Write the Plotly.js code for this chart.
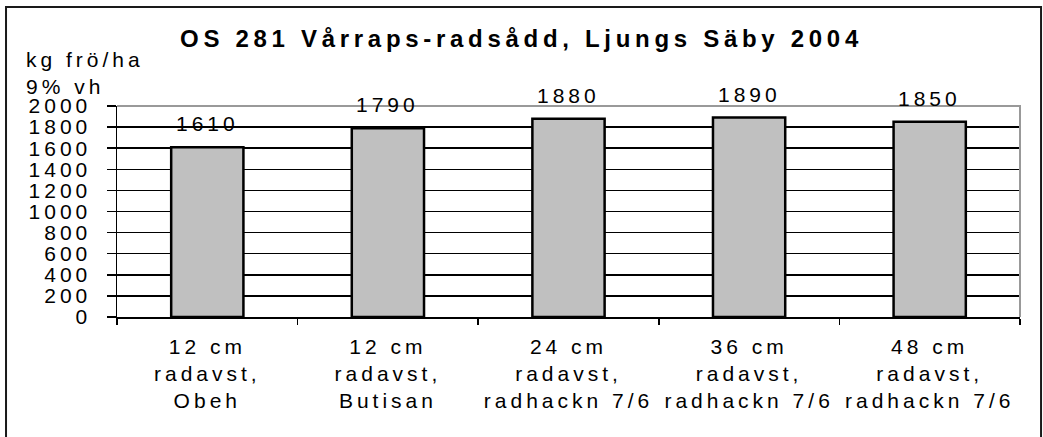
<!DOCTYPE html>
<html>
<head>
<meta charset="utf-8">
<script src="https://cdn.plot.ly/plotly-3.0.1.min.js"></script>
<style>
  html, body { margin: 0; padding: 0; background: #fff; }
  #chart { width: 1043px; height: 437px; }
  svg text { letter-spacing: 4px; }
  svg text.gtitle { letter-spacing: 4.7px; }
</style>
</head>
<body>
<div id="chart"></div>
<script>
const chartTitle = "OS 281 Vårraps-radsådd, Ljungs Säby 2004";
const yTitleLines = ["kg frö/ha", "9% vh"];
const categories = [
  "12 cm<br>radavst,<br>Obeh",
  "12 cm<br>radavst,<br>Butisan",
  "24 cm<br>radavst,<br>radhackn 7/6",
  "36 cm<br>radavst,<br>radhackn 7/6",
  "48 cm<br>radavst,<br>radhackn 7/6"
];
const values = [1610, 1790, 1880, 1890, 1850];
const yTickVals = [0, 200, 400, 600, 800, 1000, 1200, 1400, 1600, 1800, 2000];

const FONT = "'Liberation Sans', Arial, Helvetica, sans-serif";

const trace = {
  type: "bar",
  x: categories,
  y: values,
  marker: { color: "#c0c0c0", line: { color: "#000", width: 2.5 } },
  width: 0.4,
  hoverinfo: "none"
};

const valueAnnotations = categories.map((c, i) => ({
  x: c, y: values[i], xref: "x", yref: "y",
  text: String(values[i]), showarrow: false,
  xanchor: "center", yanchor: "bottom", yshift: 10,
  font: { family: FONT, size: 21, color: "#000" }
}));

const yTitleY = [1.2227, 1.092];
const yTitleAnnotations = yTitleLines.map((t, i) => ({
  x: -0.103, y: yTitleY[i], xref: "paper", yref: "paper",
  text: t, showarrow: false, xanchor: "left", yanchor: "middle",
  font: { family: FONT, size: 21, color: "#000" }
}));

const layout = {
  width: 1043, height: 437,
  margin: { l: 117, r: 23, t: 106, b: 120, pad: 0 },
  paper_bgcolor: "#fff", plot_bgcolor: "rgba(0,0,0,0)",
  showlegend: false,
  title: {
    text: "<b>" + chartTitle + "</b>",
    x: 0.5, xref: "container", xanchor: "center",
    y: 0.912, yref: "container", yanchor: "middle",
    font: { family: FONT, size: 24, color: "#000" }
  },
  xaxis: {
    type: "category",
    showgrid: false, zeroline: false,
    showline: true, linecolor: "#000", linewidth: 1.5,
    ticks: "outside", ticklen: 6, tickwidth: 1.5, tickcolor: "#000",
    tickson: "boundaries",
    tickfont: { family: FONT, size: 21, color: "#000" },
    ticklabelstandoff: 10,
    fixedrange: true
  },
  yaxis: {
    range: [yTickVals[0], yTickVals[yTickVals.length - 1]],
    tickvals: yTickVals,
    showgrid: true, gridcolor: "#000", gridwidth: 1.5,
    zeroline: false,
    showline: true, linecolor: "#000", linewidth: 1.5,
    ticks: "outside", ticklen: 9, tickwidth: 1.5, tickcolor: "#000",
    tickfont: { family: FONT, size: 21, color: "#000" },
    ticklabelstandoff: 11,
    fixedrange: true
  },
  shapes: [
    {
      type: "path", xref: "paper", yref: "paper",
      path: "M 0 1 L 1 1 L 1 0",
      line: { color: "#999", width: 2 }, layer: "above"
    },
    {
      type: "rect", xref: "paper", yref: "paper",
      x0: -0.1229, x1: 1.0233, y0: -0.6, y1: 1.469,
      line: { color: "#1a1a1a", width: 2 }, layer: "below"
    }
  ],
  annotations: valueAnnotations.concat(yTitleAnnotations)
};

Plotly.newPlot("chart", [trace], layout, { displayModeBar: false, staticPlot: true });
</script>
</body>
</html>
